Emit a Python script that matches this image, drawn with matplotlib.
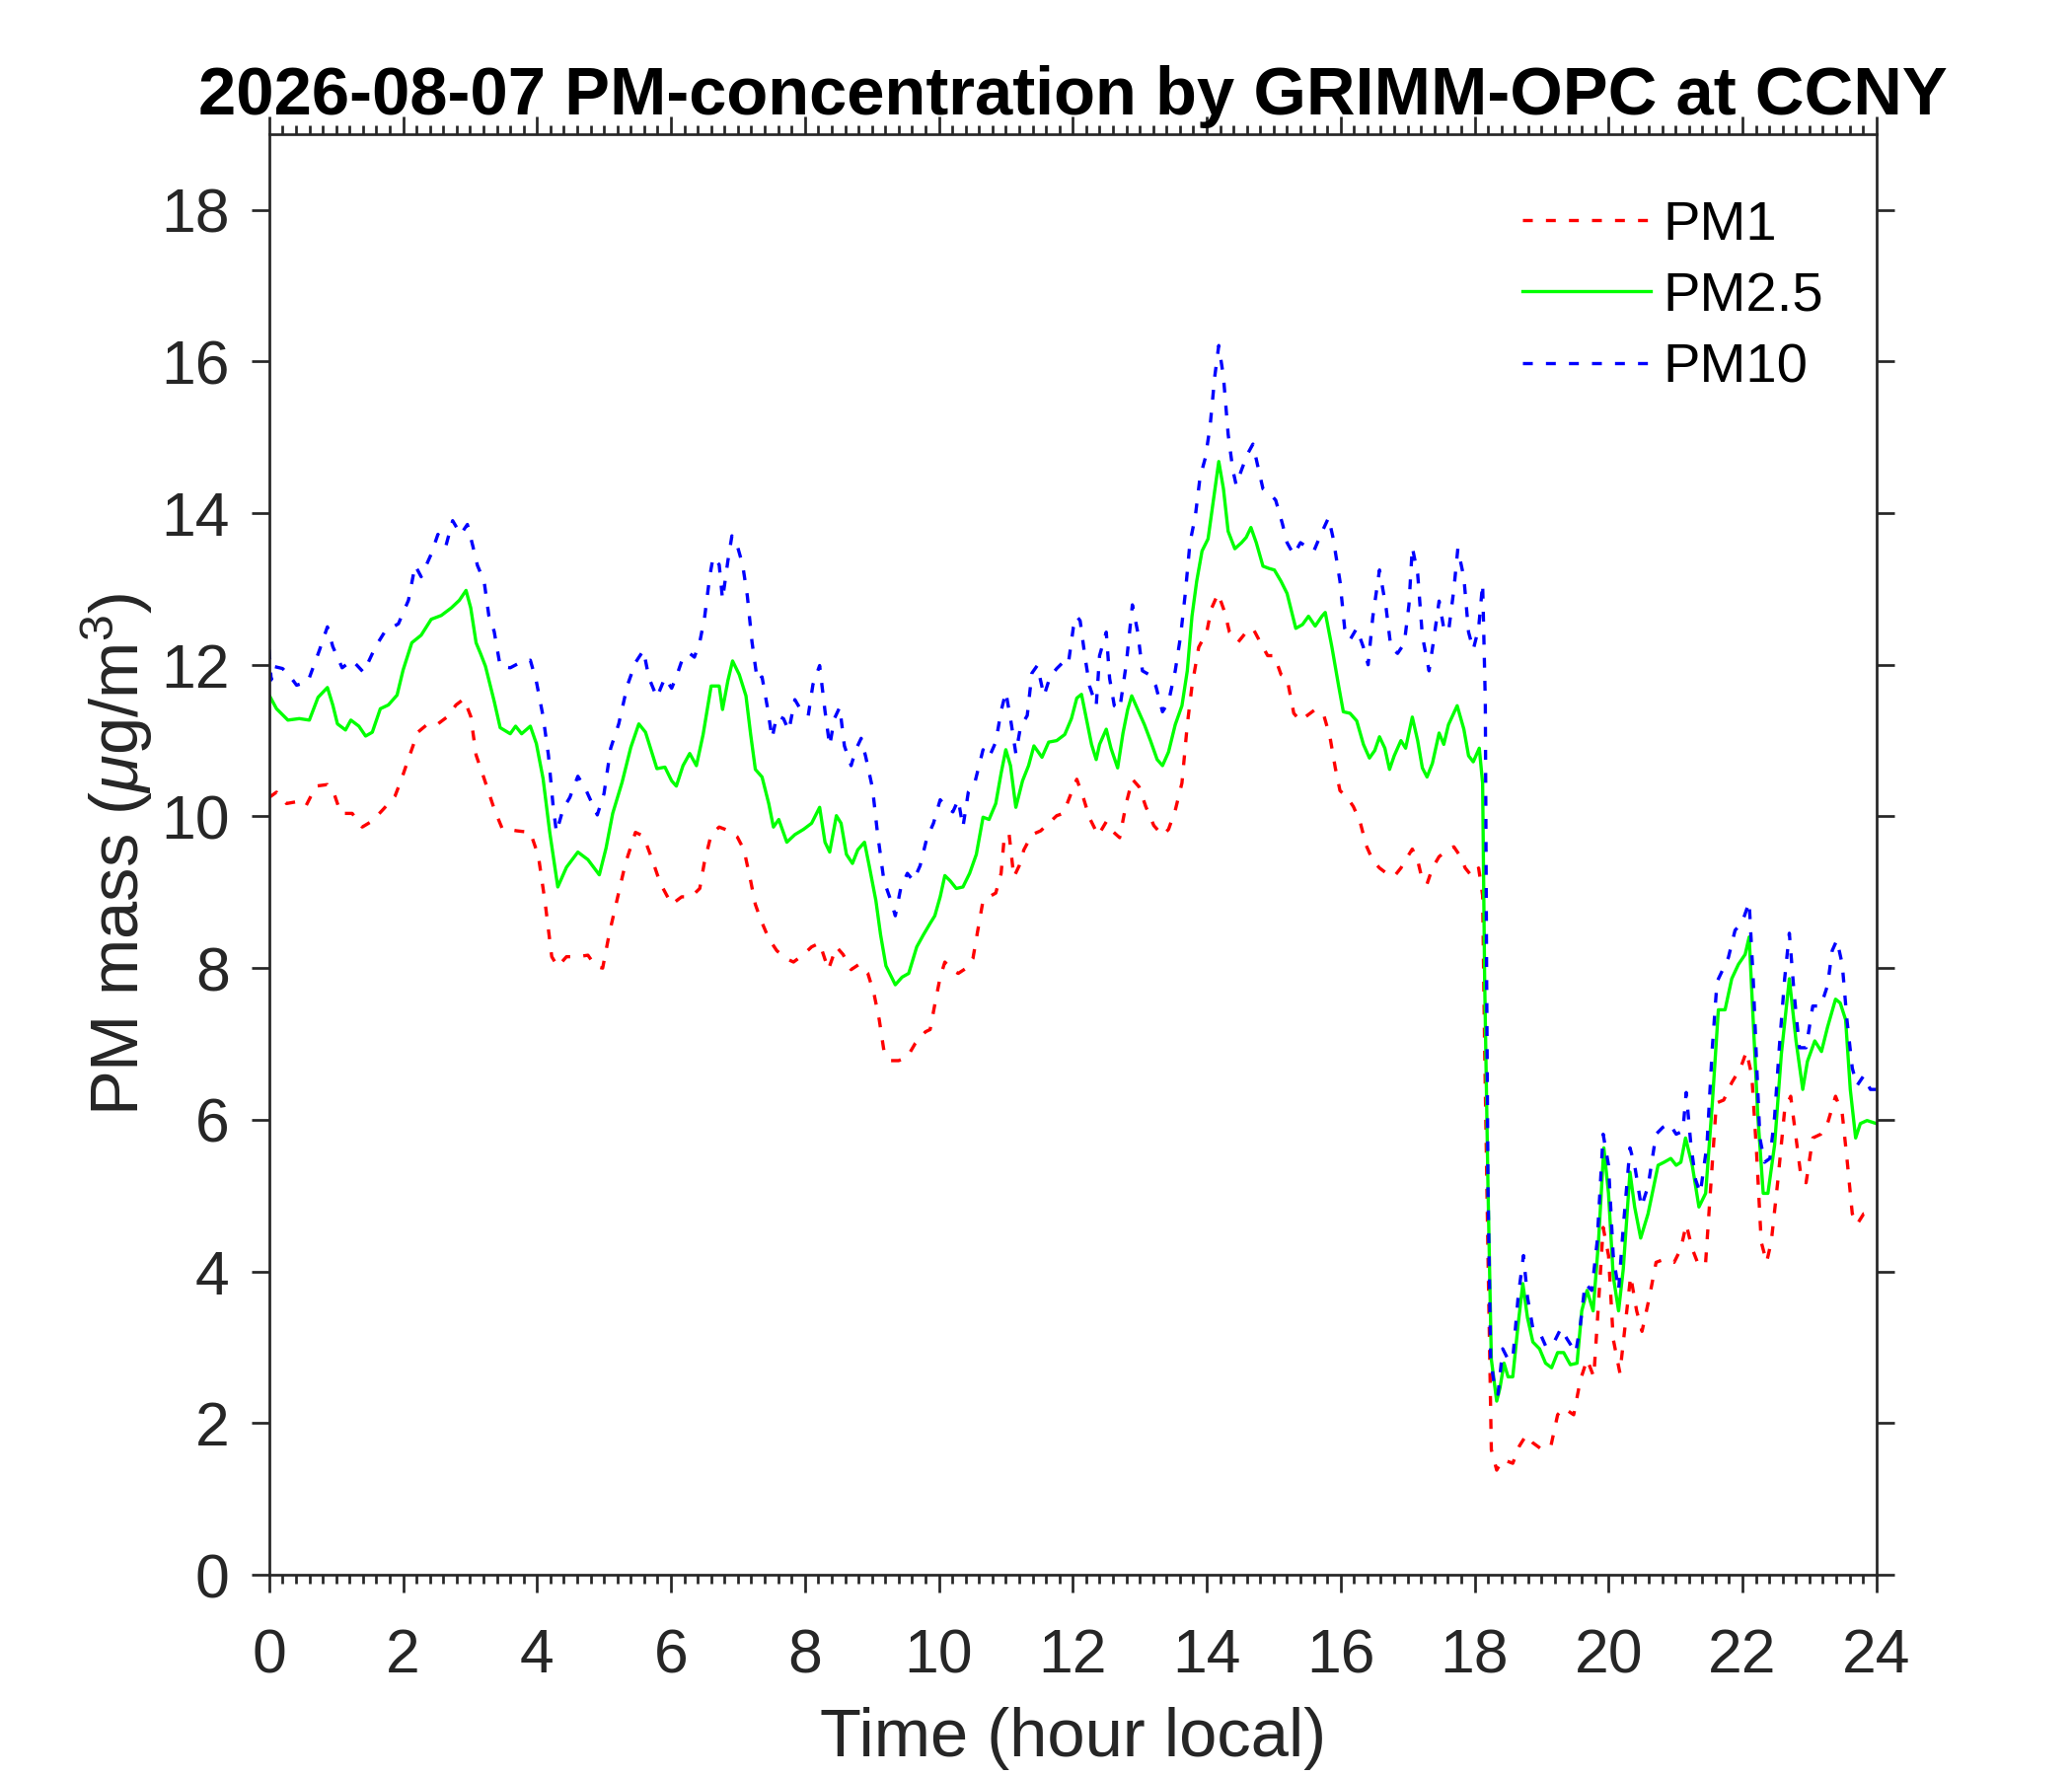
import matplotlib
matplotlib.use('Agg')
from matplotlib import pyplot as plt
from matplotlib.ticker import MultipleLocator

plt.rcParams['font.family'] = ['Liberation Sans', 'DejaVu Sans']
plt.rcParams['mathtext.fontset'] = 'custom'
plt.rcParams['mathtext.rm'] = 'Liberation Sans'
plt.rcParams['mathtext.it'] = 'Liberation Sans:italic'

# hours (local) and PM mass (ug/m3)
pm1_t = [0.0, 0.11, 0.26, 0.45, 0.55, 0.7, 0.87, 0.97, 1.07, 1.24, 1.39, 1.54, 1.71, 1.88, 1.98, 2.08,
         2.22, 2.37, 2.52, 2.67, 2.79, 2.91, 3.01, 3.09, 3.21, 3.36, 3.48, 3.7, 3.9, 4.02, 4.12, 4.22,
         4.31, 4.44, 4.61, 4.76, 4.88, 4.98, 5.08, 5.2, 5.32, 5.47, 5.59, 5.72, 5.84,
         6.01, 6.16, 6.3, 6.43, 6.5, 6.6, 6.72, 6.87, 6.99, 7.09, 7.19, 7.26, 7.34, 7.46, 7.58, 7.71,
         7.83, 7.98, 8.1, 8.22, 8.35, 8.47, 8.57, 8.69, 8.81, 8.94, 9.03, 9.11, 9.18, 9.28, 9.4, 9.53,
         9.65, 9.8, 9.87, 9.94, 10.02, 10.09, 10.19, 10.29, 10.41, 10.51, 10.58, 10.66, 10.75, 10.85,
         10.93, 10.98, 11.05, 11.12, 11.2, 11.27, 11.39, 11.52, 11.64, 11.76, 11.86, 11.96,
         12.06, 12.16, 12.25, 12.38, 12.5, 12.6, 12.7, 12.8, 12.89, 12.99, 13.09, 13.21, 13.34, 13.43,
         13.53, 13.63, 13.71, 13.78, 13.88, 14.0, 14.07, 14.17, 14.27, 14.34, 14.47, 14.59, 14.69,
         14.81, 14.91, 15.01, 15.11, 15.2, 15.3, 15.4, 15.5, 15.62, 15.75, 15.84, 15.92, 15.99, 16.09,
         16.19, 16.29, 16.38, 16.48, 16.58, 16.7, 16.8, 16.9, 17.0, 17.07, 17.15, 17.22, 17.29, 17.37,
         17.47, 17.59, 17.69, 17.79, 17.86, 17.96, 18.06, 18.12,
         18.15, 18.2, 18.25, 18.33, 18.42, 18.57, 18.67, 18.77, 18.87, 19.01, 19.14, 19.24, 19.33,
         19.48, 19.58, 19.68, 19.78, 19.85, 19.92, 20.0, 20.07, 20.17, 20.25, 20.33, 20.42, 20.5,
         20.61, 20.71, 20.83, 20.98, 21.08, 21.16, 21.25, 21.35, 21.45, 21.52, 21.61, 21.72, 21.84,
         21.97, 22.06, 22.14, 22.21, 22.28, 22.36, 22.43, 22.53, 22.63, 22.72, 22.8, 22.88, 22.95,
         23.05, 23.17, 23.27, 23.39, 23.49, 23.56, 23.64, 23.71, 23.81, 24.0]
pm1 = [10.25, 10.32, 10.17, 10.2, 10.14, 10.4, 10.42, 10.3, 10.04, 10.04, 9.86, 9.94, 10.1, 10.27, 10.5, 10.76,
       11.11, 11.22, 11.22, 11.32, 11.47, 11.55, 11.32, 10.81, 10.5, 10.1, 9.84, 9.81, 9.79, 9.48, 8.87, 8.15,
       8.02, 8.15, 8.15, 8.17, 8.02, 8.0, 8.46, 8.92, 9.38, 9.79, 9.74, 9.43, 9.12,
       8.84, 8.94, 8.94, 9.05, 9.4, 9.76, 9.86, 9.81, 9.73, 9.56, 9.15, 8.84, 8.64, 8.39, 8.23, 8.13,
       8.08, 8.18, 8.28, 8.33, 7.98, 8.28, 8.18, 7.98, 8.05, 7.93, 7.67, 7.32, 6.91, 6.78, 6.78, 6.83,
       7.01, 7.16, 7.19, 7.52, 7.88, 8.08, 7.98, 7.93, 8.0, 8.13, 8.49, 8.89, 8.94, 8.99,
       9.25, 9.76, 9.76, 9.2, 9.35, 9.56, 9.76, 9.81, 9.91, 10.01, 10.04, 10.27,
       10.49, 10.24, 9.98, 9.75, 9.93, 9.8, 9.72, 10.18, 10.49, 10.39, 10.13, 9.88, 9.75, 9.83,
       10.08, 10.44, 11.21, 11.72, 12.23, 12.43, 12.74, 12.94, 12.69, 12.43, 12.3, 12.43, 12.48,
       12.28, 12.12, 12.12, 11.87, 11.82, 11.36, 11.26, 11.33, 11.41, 11.33, 11.05, 10.64, 10.34, 10.26,
       10.13, 9.93, 9.62, 9.42, 9.32, 9.24, 9.21, 9.32, 9.47, 9.57, 9.42, 9.16, 9.11, 9.32,
       9.47, 9.55, 9.6, 9.47, 9.32, 9.21, 9.32, 8.96,
       6.95, 4.21, 1.65, 1.38, 1.52, 1.47, 1.7, 1.84, 1.74, 1.65, 1.7, 2.11, 2.2,
       2.11, 2.57, 2.84, 2.61, 3.57, 4.58, 4.21, 3.11, 2.66, 3.3, 3.94, 3.48, 3.21,
       3.66, 4.12, 4.16, 4.12, 4.3, 4.62, 4.3, 4.07, 4.12, 5.03, 6.22, 6.26, 6.49,
       6.68, 6.9, 6.58, 5.58, 4.39, 4.12, 4.39, 5.21, 6.13, 6.31, 5.76, 5.21, 5.17,
       5.76, 5.81, 5.95, 6.31, 6.08, 5.49, 4.76, 4.62, 4.76, 4.8]

pm25_t = [0.0, 0.11, 0.28, 0.45, 0.6, 0.73, 0.87, 0.95, 1.02, 1.14, 1.22, 1.34, 1.44, 1.54, 1.66, 1.78,
          1.91, 2.0, 2.13, 2.27, 2.42, 2.57, 2.72, 2.84, 2.94, 3.01, 3.09, 3.16, 3.23, 3.36, 3.45, 3.6,
          3.68, 3.77, 3.9, 3.99, 4.09, 4.19, 4.31, 4.44, 4.61, 4.76, 4.93, 5.03, 5.13, 5.27, 5.4, 5.52,
          5.62, 5.79, 5.91,
          6.01, 6.08, 6.18, 6.28, 6.38, 6.48, 6.6, 6.72, 6.77, 6.85, 6.92, 7.02, 7.12, 7.19, 7.26, 7.36,
          7.46, 7.53, 7.61, 7.73, 7.85, 7.98, 8.1, 8.22, 8.3, 8.37, 8.47, 8.54, 8.62, 8.71, 8.79, 8.89,
          8.96, 9.06, 9.13, 9.21, 9.35, 9.45, 9.55, 9.67, 9.77, 9.87, 9.94, 10.02, 10.09, 10.17, 10.26,
          10.36, 10.46, 10.56, 10.66, 10.75, 10.85, 10.93, 11.0, 11.07, 11.15, 11.25, 11.34, 11.42,
          11.54, 11.64, 11.76, 11.88, 11.98,
          12.06, 12.13, 12.21, 12.28, 12.35, 12.4, 12.5, 12.57, 12.67, 12.75, 12.82, 12.88, 12.97, 13.07,
          13.16, 13.26, 13.34, 13.43, 13.53, 13.63, 13.71, 13.78, 13.85, 13.93, 14.02, 14.1, 14.18,
          14.25, 14.32, 14.42, 14.52, 14.59, 14.66, 14.74, 14.84, 14.93, 15.01, 15.11, 15.2, 15.33,
          15.43, 15.52, 15.62, 15.72, 15.77, 15.87, 15.97, 16.04, 16.14, 16.24, 16.34, 16.43, 16.51,
          16.58, 16.66, 16.73, 16.8, 16.9, 16.97, 17.07, 17.15, 17.22, 17.29, 17.37, 17.47, 17.54,
          17.61, 17.74, 17.84, 17.91, 17.98, 18.07, 18.12,
          18.15, 18.2, 18.25, 18.33, 18.38, 18.44, 18.5, 18.57, 18.65, 18.72, 18.79, 18.87, 18.97,
          19.06, 19.15, 19.24, 19.33, 19.43, 19.53, 19.6, 19.68, 19.77, 19.85, 19.93, 20.0, 20.07,
          20.15, 20.22, 20.32, 20.39, 20.48, 20.59, 20.74, 20.83, 20.93, 21.01, 21.08, 21.15, 21.25,
          21.35, 21.45, 21.55, 21.64, 21.74, 21.84, 21.94, 22.04, 22.1, 22.16, 22.23, 22.31, 22.38,
          22.48, 22.58, 22.7, 22.8, 22.9, 22.97, 23.08, 23.18, 23.27, 23.39, 23.46, 23.54, 23.61,
          23.69, 23.76, 23.86, 24.0]
pm25 = [11.6, 11.42, 11.27, 11.29, 11.27, 11.57, 11.7, 11.47, 11.22, 11.14, 11.27, 11.19, 11.06, 11.11, 11.42, 11.47,
        11.6, 11.93, 12.29, 12.39, 12.6, 12.65, 12.75, 12.85, 12.98, 12.75, 12.29, 12.14, 11.98, 11.52, 11.17, 11.09,
        11.19, 11.09, 11.19, 10.96, 10.5, 9.79, 9.07, 9.33, 9.53, 9.43, 9.23, 9.58, 10.04, 10.45, 10.91, 11.22,
        11.11, 10.63, 10.65,
        10.47, 10.4, 10.67, 10.83, 10.67, 11.08, 11.72, 11.72, 11.41, 11.79, 12.05, 11.87, 11.59, 11.08, 10.62, 10.52,
        10.17, 9.86, 9.96, 9.66, 9.76, 9.83, 9.91, 10.12, 9.66, 9.53, 10.01, 9.91, 9.5, 9.38, 9.56, 9.66,
        9.35, 8.89, 8.44, 8.03, 7.78, 7.88, 7.93, 8.28, 8.44, 8.59, 8.69, 8.94, 9.22, 9.15, 9.05,
        9.07, 9.25, 9.5, 9.99, 9.96, 10.17, 10.57, 10.88, 10.67, 10.12, 10.47, 10.67, 10.93,
        10.78, 10.98, 11.0, 11.08, 11.29,
        11.56, 11.61, 11.26, 10.95, 10.75, 10.95, 11.15, 10.9, 10.64, 11.1, 11.41, 11.59, 11.41, 11.21,
        11.0, 10.75, 10.67, 10.85, 11.21, 11.46, 11.92, 12.64, 13.1, 13.5, 13.66, 14.17, 14.68,
        14.32, 13.76, 13.53, 13.61, 13.68, 13.81, 13.61, 13.3, 13.27, 13.25, 13.1, 12.94, 12.48,
        12.53, 12.64, 12.51, 12.64, 12.69, 12.23, 11.72, 11.38, 11.36, 11.26, 10.95, 10.77, 10.87,
        11.05, 10.9, 10.62, 10.8, 11.0, 10.9, 11.31, 11.0, 10.64, 10.52, 10.7, 11.1, 10.95,
        11.21, 11.46, 11.15, 10.8, 10.72, 10.9, 10.44,
        7.86, 5.12, 2.84, 2.29, 2.47, 2.79, 2.61, 2.61, 3.3, 3.84, 3.39, 3.07, 2.98,
        2.79, 2.73, 2.93, 2.93, 2.77, 2.79, 3.48, 3.75, 3.48, 4.39, 5.63, 5.03, 3.94,
        3.48, 4.03, 5.31, 4.85, 4.44, 4.76, 5.4, 5.44, 5.49, 5.4, 5.44, 5.76, 5.4,
        4.85, 5.03, 6.22, 7.45, 7.45, 7.86, 8.05, 8.18, 8.41, 7.32, 6.04, 5.03, 5.03,
        5.67, 6.86, 7.86, 7.04, 6.4, 6.77, 7.04, 6.9, 7.22, 7.59, 7.54, 7.32, 6.4,
        5.76, 5.95, 5.99, 5.95]

pm10_t = [0.0, 0.03, 0.06, 0.2, 0.31, 0.41, 0.58, 0.75, 0.87, 0.95, 1.09, 1.24, 1.41, 1.59, 1.73, 1.93,
          2.08, 2.18, 2.27, 2.42, 2.52, 2.64, 2.74, 2.86, 2.96, 3.04, 3.11, 3.21, 3.28, 3.36, 3.45, 3.6,
          3.75, 3.9, 3.99, 4.09, 4.17, 4.24, 4.29, 4.39, 4.49, 4.61, 4.73, 4.9, 5.0, 5.1, 5.22, 5.35,
          5.47, 5.59, 5.67, 5.79, 5.91,
          6.01, 6.08, 6.18, 6.28, 6.35, 6.43, 6.5, 6.58, 6.63, 6.72, 6.77, 6.85, 6.91, 6.99, 7.07, 7.14,
          7.21, 7.29, 7.36, 7.44, 7.51, 7.58, 7.68, 7.76, 7.85, 7.95, 8.05, 8.12, 8.22, 8.3, 8.37, 8.44,
          8.52, 8.59, 8.69, 8.76, 8.84, 8.91, 9.01, 9.08, 9.18, 9.28, 9.35, 9.43, 9.53, 9.62, 9.72,
          9.82, 9.92, 10.02, 10.12, 10.21, 10.29, 10.36, 10.44, 10.53, 10.66, 10.75, 10.85, 10.93,
          11.0, 11.07, 11.15, 11.22, 11.32, 11.39, 11.47, 11.57, 11.66, 11.76, 11.84, 11.93, 12.01,
          12.06, 12.11, 12.18, 12.25, 12.35, 12.4, 12.5, 12.55, 12.62, 12.7, 12.8, 12.89, 12.97, 13.04,
          13.14, 13.24, 13.34, 13.43, 13.53, 13.61, 13.68, 13.75, 13.83, 13.9, 13.98, 14.05, 14.12,
          14.18, 14.25, 14.32, 14.39, 14.44, 14.52, 14.61, 14.69, 14.76, 14.84, 14.93, 15.03, 15.13,
          15.2, 15.3, 15.4, 15.5, 15.6, 15.7, 15.82, 15.89, 15.99, 16.06, 16.14, 16.24, 16.34, 16.41,
          16.48, 16.58, 16.68, 16.75, 16.85, 16.95, 17.02, 17.07, 17.15, 17.22, 17.32, 17.39, 17.47,
          17.54, 17.61, 17.69, 17.75, 17.84, 17.91, 17.98, 18.06, 18.12,
          18.16, 18.18, 18.2, 18.24, 18.3, 18.35, 18.42, 18.5, 18.57, 18.65, 18.73, 18.79, 18.87,
          18.99, 19.06, 19.16, 19.29, 19.38, 19.51, 19.58, 19.65, 19.75, 19.83, 19.92, 20.0, 20.07,
          20.15, 20.22, 20.32, 20.39, 20.49, 20.59, 20.71, 20.81, 20.91, 21.01, 21.11, 21.16, 21.23,
          21.3, 21.37, 21.47, 21.55, 21.62, 21.69, 21.79, 21.89, 21.99, 22.1, 22.16, 22.21, 22.26,
          22.33, 22.41, 22.48, 22.55, 22.63, 22.7, 22.77, 22.85, 22.95, 23.05, 23.17, 23.27, 23.34,
          23.41, 23.49, 23.56, 23.64, 23.71, 23.81, 23.91, 24.0]
pm10 = [12.2, 11.8, 11.98, 11.95, 11.85, 11.73, 11.78, 12.19, 12.5, 12.24, 11.96, 12.06, 11.9, 12.24, 12.44, 12.54,
        12.85, 13.31, 13.16, 13.46, 13.72, 13.57, 13.9, 13.72, 13.85, 13.57, 13.31, 13.1, 12.65, 12.44, 11.98, 11.96,
        12.03, 12.06, 11.78, 11.32, 10.81, 10.14, 9.79, 10.1, 10.25, 10.53, 10.35, 10.02, 10.3, 10.9, 11.22, 11.73,
        12.03, 12.19, 11.83, 11.57, 11.83,
        11.69, 11.84, 12.1, 12.15, 12.1, 12.3, 12.61, 13.17, 13.42, 13.32, 12.86, 13.37, 13.7, 13.57, 13.32, 12.91,
        12.3, 11.79, 11.84, 11.44, 11.03, 11.33, 11.29, 11.13, 11.54, 11.39, 11.33, 11.74, 11.99, 11.39, 10.93, 11.29,
        11.44, 10.93, 10.67, 10.88, 11.03, 10.78, 10.37, 9.81, 9.15, 8.9, 8.69, 9.05, 9.25, 9.15, 9.35,
        9.71, 9.91, 10.22, 10.12, 10.06, 10.22, 9.86, 10.32, 10.42, 10.88, 10.78, 10.98, 11.39,
        11.64, 11.29, 10.83, 11.18, 11.33, 11.89, 11.99, 11.59, 11.84, 11.95, 12.02, 11.99, 12.5,
        12.64, 12.58, 12.12, 11.72, 11.46, 12.12, 12.43, 11.82, 11.46, 11.41, 12.02, 12.79, 12.43, 11.92,
        11.87, 11.72, 11.38, 11.51, 11.92, 12.38, 12.94, 13.61, 13.96, 14.47, 14.73, 15.14, 15.8,
        16.21, 15.8, 15.04, 14.57, 14.37, 14.57, 14.78, 14.91, 14.63, 14.32, 14.27, 14.17, 13.86,
        13.61, 13.45, 13.61, 13.55, 13.5, 13.71, 13.94, 13.66, 13.1, 12.48, 12.33, 12.48, 12.23, 12.0,
        12.63, 13.25, 12.74, 12.23, 12.15, 12.28, 12.79, 13.55, 13.2, 12.38, 11.92, 12.33, 12.84,
        12.48, 12.43, 12.99, 13.53, 13.15, 12.43, 12.2, 12.48, 13.07,
        11.52, 7.86, 5.12, 2.84, 2.47, 2.38, 2.98, 2.84, 2.84, 3.66, 4.21, 3.66, 3.25,
        3.16, 3.02, 3.02, 3.25, 3.11, 2.93, 3.3, 3.84, 3.75, 4.39, 5.81, 5.4, 4.21,
        3.75, 4.58, 5.63, 5.4, 4.85, 5.12, 5.81, 5.9, 5.95, 5.81, 5.85, 6.36, 5.67,
        5.21, 5.03, 5.67, 6.95, 7.82, 7.95, 8.14, 8.5, 8.59, 8.87, 7.86, 6.77, 5.76,
        5.44, 5.49, 6.04, 6.95, 7.86, 8.46, 7.68, 6.95, 6.95, 7.5, 7.5, 7.77, 8.23,
        8.37, 8.05, 7.32, 6.68, 6.45, 6.58, 6.4, 6.4]

x_ticks = list(range(0, 25, 2))
y_ticks = list(range(0, 19, 2))
title = '2026-08-07 PM-concentration by GRIMM-OPC at CCNY'
axis_col = '#262626'

fig = plt.figure(figsize=(7, 6), dpi=300)
ax = fig.add_axes([0.1299, 0.1133, 0.7757, 0.8113])

ax.plot(pm1_t, pm1, color='#ff0000', ls=(0, (3, 4)), lw=0.8, label='PM1')
ax.plot(pm25_t, pm25, color='#00ff00', ls='-', lw=0.8, label='PM2.5')
ax.plot(pm10_t, pm10, color='#0000ff', ls=(0, (3, 4)), lw=0.8, label='PM10')

ax.set_xlim(0, 24)
ax.set_ylim(0, 19)
ax.set_xticks(x_ticks)
ax.set_yticks(y_ticks)
ax.xaxis.set_minor_locator(MultipleLocator(0.2))

for s in ax.spines.values():
    s.set_color(axis_col)
    s.set_linewidth(0.65)
ax.tick_params(which='both', direction='out', top=True, right=True,
               color=axis_col, labelcolor=axis_col, width=0.65, labelsize=15)
ax.tick_params(which='major', length=4.3)
ax.tick_params(which='minor', length=2.2)
ax.tick_params(axis='x', which='major', pad=8.5)
ax.tick_params(axis='y', which='major', pad=5.3)

ax.set_xlabel('Time (hour local)', fontsize=16.5, color=axis_col, labelpad=5.2)
ax.set_ylabel(r'PM mass ($\mu$g/m$^3$)', fontsize=16.5, color=axis_col, labelpad=1.5)
ax.text(0.5, 1.0135, title, transform=ax.transAxes, ha='center', va='baseline',
        fontsize=16.5, fontweight='bold')

ax.legend(loc='upper left', bbox_to_anchor=(0.78, 0.954), frameon=False, fontsize=13.5,
          handlelength=2.3, handletextpad=0.22, labelspacing=0.36, borderpad=0, borderaxespad=0)

fig.savefig('out.png', dpi=300)
